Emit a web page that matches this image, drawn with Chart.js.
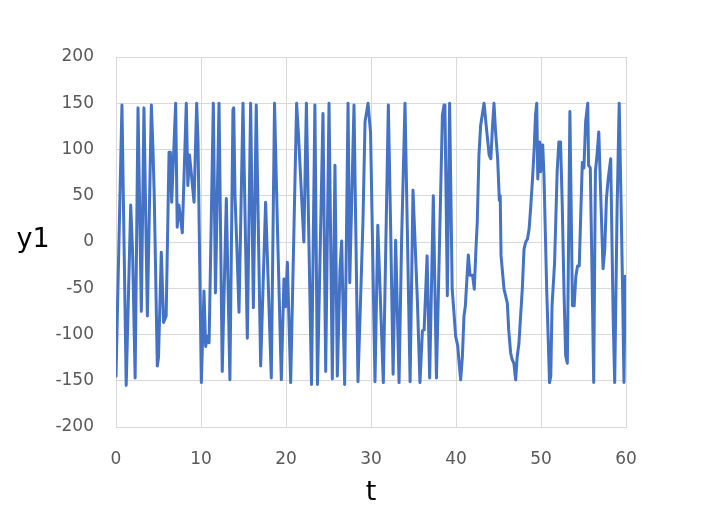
<!DOCTYPE html>
<html>
<head>
<meta charset="utf-8">
<script src="https://cdn.jsdelivr.net/npm/chart.js@4/dist/chart.umd.min.js"></script>
<style>
html,body{margin:0;padding:0;background:#fff;}
#wrap{width:715px;height:525px;}
</style>
</head>
<body>
<div id="wrap"><canvas id="c" width="715" height="525"></canvas></div>
<script>
const xTitle = "t";
const yTitle = "y1";
const xTicks = [0, 10, 20, 30, 40, 50, 60];
const yTicks = [-200, -150, -100, -50, 0, 50, 100, 150, 200];

const tValues = [
0.0,0.7,1.2,1.73,1.95,2.25,2.59,2.98,3.29,3.69,4.16,4.35,4.5,4.86,5.0,5.33,5.6,5.9,6.24,6.4,
6.55,7.02,7.2,7.4,7.8,8.27,8.45,8.65,8.9,9.18,9.49,9.65,10.04,10.35,10.55,10.75,10.95,11.45,11.7,12.12,
12.5,12.98,13.4,13.76,13.85,14.0,14.2,14.47,14.94,15.45,15.84,16.16,16.5,17.02,17.6,18.27,18.65,18.98,19.45,19.76,
19.95,20.16,20.55,21.25,21.5,22.1,22.4,23.0,23.4,23.7,24.35,24.67,25.06,25.45,25.76,26.04,26.35,26.55,26.9,27.3,
27.5,28.0,28.47,28.75,29.05,29.3,29.65,29.95,30.47,30.8,31.45,32.04,32.3,32.6,32.9,33.3,33.6,34.0,34.6,34.94,
35.25,35.45,35.76,36.05,36.25,36.6,36.9,37.33,37.7,38.4,38.6,38.7,38.98,39.25,39.55,39.75,39.96,40.2,40.45,40.55,
40.75,40.94,41.1,41.45,41.65,41.95,42.15,42.35,42.5,42.7,42.9,43.3,43.55,43.9,44.1,44.3,44.47,44.65,44.9,45.1,
45.2,45.3,45.65,46.04,46.2,46.43,46.6,46.8,47.02,47.2,47.4,47.6,47.8,48.0,48.2,48.4,48.6,48.8,49.0,49.2,
49.35,49.5,49.62,49.85,49.95,50.2,50.35,50.5,50.67,50.85,51.0,51.15,51.3,51.6,51.9,52.1,52.3,52.5,52.7,52.9,
53.1,53.4,53.7,53.9,54.1,54.3,54.5,54.65,54.86,55.05,55.25,55.5,55.6,55.8,56.0,56.2,56.4,56.6,56.8,57.0,
57.3,57.5,57.7,57.9,58.05,58.2,58.3,58.5,58.67,58.95,59.2,59.4,59.6,59.76,59.9,60.0
];
const y1Values = [
-145,148,-155,40,-10,-147,145,-75,145,-80,148,100,50,-134,-125,-11,-87,-80,97,97,
43,150,16,40,10,150,61,94,70,43,150,108,-152,-53,-113,-102,-109,150,-55,150,
-140,47,-149,143,145,50,0,-76,150,-104,150,-71,148,-134,43,-147,150,21,-149,-40,
-70,-22,-152,150,110,0,150,-154,148,-154,139,-140,150,-148,83,-145,-30,1,-154,150,
-44,148,-151,-69,21,130,150,118,-151,18,-152,148,21,-143,2,-152,2,150,-151,56,
-15,-62,-152,-96,-95,-15,-147,50,-147,137,148,145,-58,150,-51,-75,-102,-112,-140,-149,
-124,-80,-69,-14,-36,-36,-51,-7,21,94,126,150,126,94,90,126,150,120,90,45,
50,-15,-51,-66,-95,-120,-127,-131,-149,-124,-110,-80,-51,-8,0,3,14,39,68,101,
137,150,68,108,76,105,72,14,-51,-105,-152,-145,-69,-22,76,108,108,40,-51,-123,
-131,141,-69,-69,-37,-26,-26,21,86,80,130,150,83,80,-33,-152,76,95,119,58,
-29,-8,47,68,79,90,30,-87,-152,35,150,52,-51,-152,-37,-80
];

const points = tValues.map((t, i) => ({ x: t, y: y1Values[i] }));

const PLOT_LEFT = 116, PLOT_TOP = 57, PLOT_RIGHT = 626, PLOT_BOTTOM = 427;
const W = 715, H = 525;
const tickFont = { family: "'DejaVu Sans', Verdana, sans-serif", size: 17 };
const gridColor = "#d9d9d9";

const titlePlugin = {
  id: "axisTitles",
  afterDraw(chart) {
    const ctx = chart.ctx;
    ctx.save();
    ctx.fillStyle = "#000";
    ctx.font = "27px 'DejaVu Sans', sans-serif";
    ctx.textAlign = "center";
    ctx.textBaseline = "middle";
    ctx.fillText(yTitle, 33, 240);
    ctx.fillText(xTitle, (chart.chartArea.left + chart.chartArea.right) / 2, 493);
    ctx.restore();
  }
};

new Chart(document.getElementById("c"), {
  type: "scatter",
  data: {
    datasets: [{
      data: points,
      showLine: true,
      borderColor: "#4472C4",
      backgroundColor: "#4472C4",
      borderWidth: 3,
      pointRadius: 0,
      pointHoverRadius: 0,
      tension: 0,
      borderJoinStyle: "round",
      borderCapStyle: "round"
    }]
  },
  options: {
    responsive: false,
    animation: false,
    devicePixelRatio: 1,
    layout: { padding: { left: 0, top: PLOT_TOP, right: W - PLOT_RIGHT, bottom: 0 } },
    plugins: { legend: { display: false }, tooltip: { enabled: false } },
    scales: {
      x: {
        type: "linear",
        min: xTicks[0],
        max: xTicks[xTicks.length - 1],
        afterBuildTicks(scale) { scale.ticks = xTicks.map(v => ({ value: v })); },
        afterFit(scale) { scale.height = H - PLOT_BOTTOM; },
        grid: { color: gridColor, lineWidth: 1, drawTicks: false },
        border: { color: gridColor, width: 1 },
        ticks: { font: tickFont, color: "#595959", padding: 22, maxRotation: 0 }
      },
      y: {
        type: "linear",
        min: yTicks[0],
        max: yTicks[yTicks.length - 1],
        afterBuildTicks(scale) { scale.ticks = yTicks.map(v => ({ value: v })); },
        afterFit(scale) { scale.width = PLOT_LEFT; },
        grid: { color: gridColor, lineWidth: 1, drawTicks: false },
        border: { color: gridColor, width: 1 },
        ticks: { font: tickFont, color: "#595959", padding: 22 }
      }
    }
  },
  plugins: [titlePlugin]
});
</script>
</body>
</html>
